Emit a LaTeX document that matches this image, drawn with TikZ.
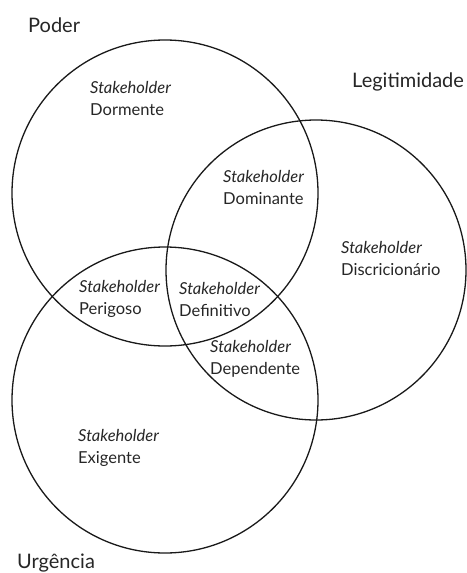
\documentclass[tikz,border=0pt]{standalone}
\usepackage{fontspec}
\setmainfont{Lato}
\begin{document}
\begin{tikzpicture}[x=1pt,y=-1pt,
  setcircle/.style={draw=black!90, line width=1.3pt, circle, minimum size=#1, inner sep=0pt},
  setname/.style={anchor=west, inner sep=0pt, text=black!85, font=\fontsize{20}{22}\selectfont},
  kind/.style={anchor=west, align=left, inner sep=0pt, text=black!85, font=\fontsize{16.5}{22}\selectfont}]
  \useasboundingbox (0,0) rectangle (466,573);
  % the three attribute sets
  \node[setcircle=306pt] (poder) at (165,193) {};
  \node[setcircle=300pt] (legit) at (316,270) {};
  \node[setcircle=306pt] (urg) at (165,400) {};
  % set names
  \node[setname] (lpoder) at (28,25) {Poder};
  \node[setname] (llegit) at (352,82) {Legitimidade};
  \node[setname] (lurg) at (17,563) {Urgência};
  % stakeholder classes
  \node[kind] (dormente) at (90,98) {\textit{Stakeholder}\\Dormente};
  \node[kind] (dominante) at (223,187) {\textit{Stakeholder}\\Dominante};
  \node[kind] (discric) at (341,258) {\textit{Stakeholder}\\Discricionário};
  \node[kind] (perigoso) at (79,299) {\textit{Stakeholder}\\Perigoso};
  \node[kind] (definitivo) at (179,299) {\textit{Stakeholder}\\Definitivo};
  \node[kind] (dependente) at (210,359) {\textit{Stakeholder}\\Dependente};
  \node[kind] (exigente) at (78,448) {\textit{Stakeholder}\\Exigente};
\end{tikzpicture}
\end{document}
